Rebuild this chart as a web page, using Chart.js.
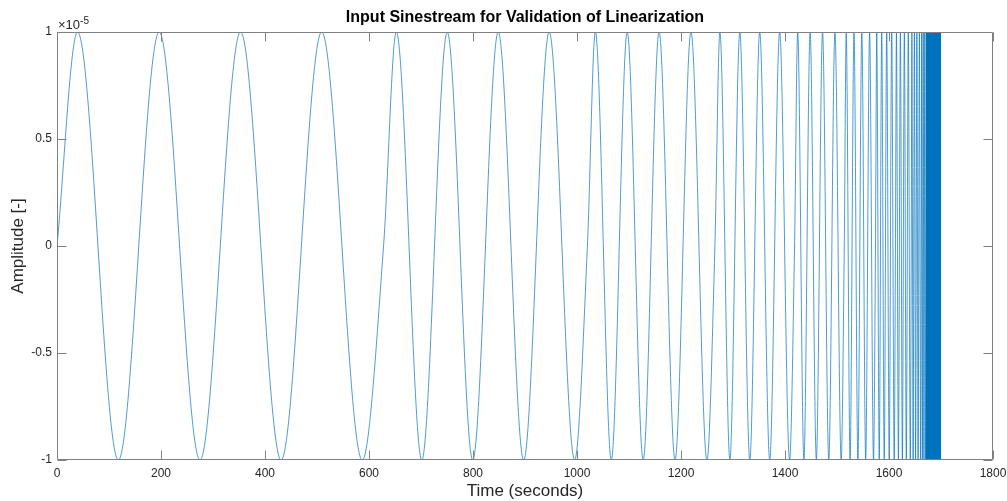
<!DOCTYPE html>
<html><head><meta charset="utf-8">
<script src="https://cdn.jsdelivr.net/npm/chart.js@4/dist/chart.umd.min.js"></script>
<style>html,body{margin:0;padding:0;background:#fff}#wrap{width:1007px;height:501px}</style>
</head><body><div id="wrap"><canvas id="c" width="1007" height="501"></canvas></div>
<script>
const chartTitle = 'Input Sinestream for Validation of Linearization';
const xLabel = 'Time (seconds)';
const yLabel = 'Amplitude [-]';
const yMultiplierBase = '\u00d710';
const yMultiplierExp = '-5';
const xTicks = [0, 200, 400, 600, 800, 1000, 1200, 1400, 1600, 1800];
const yTicks = [-1, -0.5, 0, 0.5, 1];

// Extrema / zero points of the sinestream (amplitude in units of 1e-5)
const time = [
  0, 39.5, 118, 196.5, 275, 353, 431, 509, 587, 628,
  652.5, 701.5, 750.5, 799.5, 848.5, 897.5, 946.5, 995.5, 1020,
  1035.3, 1066, 1096.6, 1127.3, 1157.9, 1188.6, 1219.2, 1249.9, 1265.2,
  1274.8, 1294, 1313.1, 1332.3, 1351.4, 1370.6, 1389.7, 1408.8, 1418.4,
  1424.4, 1436.4, 1448.3, 1460.3, 1472.2, 1484.2, 1496.1, 1508, 1514,
  1517.7, 1525.2, 1532.7, 1540.2, 1547.7, 1555.2, 1562.7, 1570.2, 1574,
  1576.4, 1581.2, 1586, 1590.8, 1595.6, 1600.4, 1605.2, 1610, 1612.4,
  1614.3, 1618.1, 1621.9, 1625.7, 1629.5, 1633.3, 1637.1, 1640.9, 1642.8,
  1644, 1646.4, 1648.8, 1651.2, 1653.6, 1656, 1658.4, 1660.8, 1662,
  1662.8, 1664.2, 1665.8, 1667.2, 1668.8, 1670.2, 1671.8, 1673.2, 1674
];
const amplitude = [
  0, 1, -1, 1, -1, 1, -1, 1, -1, 0,
  1, -1, 1, -1, 1, -1, 1, -1, 0,
  1, -1, 1, -1, 1, -1, 1, -1, 0,
  1, -1, 1, -1, 1, -1, 1, -1, 0,
  1, -1, 1, -1, 1, -1, 1, -1, 0,
  1, -1, 1, -1, 1, -1, 1, -1, 0,
  1, -1, 1, -1, 1, -1, 1, -1, 0,
  1, -1, 1, -1, 1, -1, 1, -1, 0,
  1, -1, 1, -1, 1, -1, 1, -1, 0,
  1, -1, 1, -1, 1, -1, 1, -1, 0
];
// Unresolvable high-frequency part: solid block between these times
const denseTime = [1671, 1700];
const denseUpper = [1, 1];
const denseLower = -1;

const FONT = '"Liberation Sans", Arial, Helvetica, sans-serif';
const LINE = '#0072BD';

const frame = {
  id: 'frame',
  afterDraw(chart) {
    const {ctx, chartArea: a, scales: {x, y}} = chart;
    ctx.save();
    ctx.strokeStyle = '#808080';
    ctx.lineWidth = 1;
    const L = Math.round(a.left) + 0.5, R = Math.round(a.right) - 0.5;
    const T = Math.round(a.top) + 0.5, B = Math.round(a.bottom) - 0.5;
    ctx.beginPath();
    ctx.rect(L, T, R - L, B - T);
    xTicks.forEach(v => {
      const p = Math.round(x.getPixelForValue(v)) + 0.5;
      ctx.moveTo(p, B); ctx.lineTo(p, B - 9);
      ctx.moveTo(p, T); ctx.lineTo(p, T + 9);
    });
    yTicks.forEach(v => {
      const p = Math.round(y.getPixelForValue(v)) + 0.5;
      ctx.moveTo(L, p); ctx.lineTo(L + 9, p);
      ctx.moveTo(R, p); ctx.lineTo(R - 9, p);
    });
    ctx.stroke();

    ctx.fillStyle = '#000';
    ctx.font = 'bold 16px ' + FONT;
    ctx.textAlign = 'center';
    ctx.textBaseline = 'middle';
    ctx.fillText(chartTitle, (a.left + a.right) / 2, 18);

    ctx.fillStyle = '#262626';
    ctx.font = '17px ' + FONT;
    ctx.fillText(xLabel, (a.left + a.right) / 2, 491);
    ctx.save();
    ctx.translate(18, (a.top + a.bottom) / 2);
    ctx.rotate(-Math.PI / 2);
    ctx.fillText(yLabel, 0, 0);
    ctx.restore();

    ctx.textAlign = 'left';
    ctx.textBaseline = 'alphabetic';
    ctx.font = '13px ' + FONT;
    ctx.fillText(yMultiplierBase, a.left + 1, 28.5);
    const w = ctx.measureText(yMultiplierBase).width;
    ctx.font = '10px ' + FONT;
    ctx.fillText(yMultiplierExp, a.left + 1 + w, 23.5);
    ctx.restore();
  }
};

new Chart(document.getElementById('c'), {
  type: 'line',
  data: {
    datasets: [
      {
        data: denseTime.map((t, i) => ({x: t, y: denseUpper[i]})),
        fill: {value: denseLower},
        backgroundColor: LINE,
        borderColor: LINE,
        borderWidth: 0,
        pointRadius: 0
      },
      {
        data: time.map((t, i) => ({x: t, y: amplitude[i]})),
        borderColor: LINE,
        borderWidth: 0.7,
        pointRadius: 0,
        fill: false,
        cubicInterpolationMode: 'monotone'
      }
    ]
  },
  options: {
    responsive: false,
    animation: false,
    events: [],
    layout: {padding: {left: 0, right: 14, top: 32, bottom: 0}},
    plugins: {legend: {display: false}, title: {display: false}, tooltip: {enabled: false}},
    scales: {
      x: {
        type: 'linear', min: 0, max: 1800,
        afterBuildTicks: s => { s.ticks = xTicks.map(v => ({value: v})); },
        afterFit: s => { s.height = 41; s.paddingLeft = 0; s.paddingRight = 0; },
        grid: {display: false, drawTicks: false},
        border: {display: false},
        ticks: {padding: 6, color: '#262626', font: {family: FONT, size: 12}, maxRotation: 0, autoSkip: false, callback: v => String(v)}
      },
      y: {
        type: 'linear', min: -1, max: 1,
        afterBuildTicks: s => { s.ticks = yTicks.map(v => ({value: v})); },
        afterFit: s => { s.width = 57; s.paddingTop = 0; s.paddingBottom = 0; },
        grid: {display: false, drawTicks: false},
        border: {display: false},
        ticks: {padding: 5, color: '#262626', font: {family: FONT, size: 12}, autoSkip: false, callback: v => String(v)}
      }
    }
  },
  plugins: [frame]
});
</script>
</body></html>
